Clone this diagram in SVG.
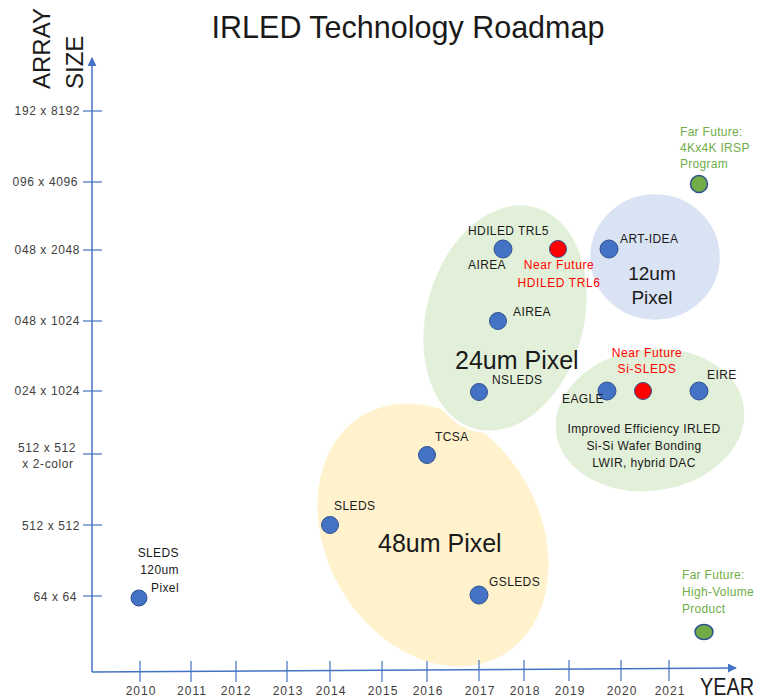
<svg xmlns="http://www.w3.org/2000/svg" width="762" height="699" viewBox="0 0 762 699">
<defs>
<style>
text{font-family:"Liberation Sans","Open Sans",Arial,sans-serif;}
.ax{stroke:#4472C4;stroke-width:1.5;fill:none;}
.tl{font-size:12px;fill:#404040;letter-spacing:0.6px;}
.yr{font-size:12px;fill:#404040;letter-spacing:1px;text-anchor:middle;}
.yl{font-size:12px;fill:#404040;text-anchor:end;letter-spacing:0.6px;}
.lb{font-size:12px;fill:#1a1a1a;letter-spacing:0.4px;}
.red{font-size:12px;fill:#FF0000;text-anchor:middle;letter-spacing:0.6px;}
.grn{font-size:12px;fill:#70AD47;letter-spacing:0.3px;}
.big{font-size:25px;fill:#1a1a1a;}
.pt{fill:#4472C4;stroke:#2F528F;stroke-width:1;}
.rp{fill:#FF0000;stroke:#2F528F;stroke-width:1;}
.gp{fill:#70AD47;stroke:#2F528F;stroke-width:1.5;}
.reg{stroke:#ffffff;stroke-width:2.5;}
</style>
<marker id="arr" viewBox="0 0 10 10" refX="9" refY="5" markerWidth="6" markerHeight="6" orient="auto-start-reverse" markerUnits="strokeWidth">
<path d="M0,0 L10,5 L0,10 z" fill="#4472C4"/>
</marker>
</defs>
<rect width="762" height="699" fill="#ffffff"/>

<text x="408" y="38" font-size="30.5" text-anchor="middle" fill="#1a1a1a">IRLED Technology Roadmap</text>
<text transform="translate(50,89) rotate(-90)" font-size="24" fill="#1a1a1a">ARRAY</text>
<text transform="translate(83,89) rotate(-90)" font-size="24" fill="#1a1a1a">SIZE</text>

<g id="regions">
<ellipse id="r48" class="reg" cx="433" cy="535" rx="140" ry="108" transform="rotate(60 433 535)" fill="#FFF2CC"/>
<ellipse id="r24" class="reg" cx="505" cy="318" rx="80" ry="116" transform="rotate(15 505 318)" fill="#E2F0D9"/>
<ellipse id="r12" class="reg" cx="655" cy="257" rx="66" ry="64" fill="#DAE3F3"/>
<ellipse id="rsi" class="reg" cx="650" cy="420" rx="96" ry="72" transform="rotate(-8 650 420)" fill="#E2F0D9"/>
</g>

<g id="axes">
<line class="ax" x1="92" y1="672" x2="92" y2="58" marker-end="url(#arr)"/>
<line class="ax" x1="92" y1="672" x2="736" y2="668" marker-end="url(#arr)"/>
<g stroke="#4472C4" stroke-width="1.2">
<line x1="83" y1="111" x2="102" y2="111"/>
<line x1="83" y1="182" x2="102" y2="182"/>
<line x1="83" y1="250" x2="102" y2="250"/>
<line x1="83" y1="321" x2="102" y2="321"/>
<line x1="83" y1="391" x2="102" y2="391"/>
<line x1="83" y1="454" x2="102" y2="454"/>
<line x1="83" y1="525" x2="102" y2="525"/>
<line x1="83" y1="596" x2="102" y2="596"/>
<line x1="140" y1="661" x2="140" y2="682"/>
<line x1="191" y1="661" x2="191" y2="682"/>
<line x1="236" y1="661" x2="236" y2="682"/>
<line x1="287" y1="661" x2="287" y2="682"/>
<line x1="330" y1="661" x2="330" y2="682"/>
<line x1="382" y1="661" x2="382" y2="682"/>
<line x1="427" y1="661" x2="427" y2="682"/>
<line x1="479" y1="660" x2="479" y2="681"/>
<line x1="524" y1="660" x2="524" y2="681"/>
<line x1="569" y1="660" x2="569" y2="681"/>
<line x1="621" y1="660" x2="621" y2="681"/>
<line x1="669" y1="660" x2="669" y2="681"/>
</g>
<text class="yl" x="80" y="115">192 x 8192</text>
<text class="yl" x="78" y="186">096 x 4096</text>
<text class="yl" x="80" y="254">048 x 2048</text>
<text class="yl" x="80" y="325">048 x 1024</text>
<text class="yl" x="80" y="395">024 x 1024</text>
<text class="tl" x="47" y="452" text-anchor="middle">512 x 512</text>
<text class="tl" x="48" y="468" text-anchor="middle">x 2-color</text>
<text class="yl" x="80" y="530">512 x 512</text>
<text class="yl" x="77" y="601">64 x 64</text>
<g>
<text class="yr" x="141" y="695">2010</text>
<text class="yr" x="192" y="695">2011</text>
<text class="yr" x="236" y="695">2012</text>
<text class="yr" x="288" y="695">2013</text>
<text class="yr" x="331" y="695">2014</text>
<text class="yr" x="383" y="695">2015</text>
<text class="yr" x="428" y="695">2016</text>
<text class="yr" x="480" y="695">2017</text>
<text class="yr" x="525" y="695">2018</text>
<text class="yr" x="570" y="695">2019</text>
<text class="yr" x="622" y="695">2020</text>
<text class="yr" x="670" y="695">2021</text>
</g>
<text x="700" y="695" font-size="23" fill="#1a1a1a" textLength="54" lengthAdjust="spacingAndGlyphs">YEAR</text>
</g>

<g id="region-labels">
<text class="big" x="378" y="552">48um Pixel</text>
<text class="big" x="455" y="369">24um Pixel</text>
<text x="652" y="280" font-size="19" fill="#1a1a1a" text-anchor="middle">12um</text>
<text x="652" y="304" font-size="19" fill="#1a1a1a" text-anchor="middle">Pixel</text>
<text class="lb" x="644" y="433" text-anchor="middle">Improved Efficiency IRLED</text>
<text class="lb" x="644" y="450" text-anchor="middle">Si-Si Wafer Bonding</text>
<text class="lb" x="644" y="467" text-anchor="middle">LWIR, hybrid DAC</text>
</g>

<g id="sleds2010">
<circle class="pt" cx="139" cy="598" r="8"/>
<text class="lb" x="179" y="557" text-anchor="end">SLEDS</text>
<text class="lb" x="179" y="574" text-anchor="end">120um</text>
<text class="lb" x="179" y="592" text-anchor="end">Pixel</text>
</g>
<g id="sleds2014">
<circle class="pt" cx="330" cy="525" r="8.5"/>
<text class="lb" x="334" y="510">SLEDS</text>
</g>
<g id="tcsa">
<circle class="pt" cx="427" cy="455" r="8.5"/>
<text class="lb" x="435" y="441">TCSA</text>
</g>
<g id="gsleds">
<circle class="pt" cx="479" cy="595" r="9"/>
<text class="lb" x="489" y="586">GSLEDS</text>
</g>
<g id="nsleds">
<circle class="pt" cx="479" cy="392" r="8.5"/>
<text class="lb" x="492" y="384">NSLEDS</text>
</g>
<g id="airea">
<circle class="pt" cx="498" cy="321" r="8.5"/>
<text class="lb" x="513" y="316">AIREA</text>
</g>
<g id="hdiled-trl5">
<circle class="pt" cx="503" cy="249" r="9"/>
<text class="lb" x="468" y="235">HDILED TRL5</text>
<text class="lb" x="468" y="269">AIREA</text>
</g>
<g id="hdiled-trl6">
<circle class="rp" cx="558" cy="249" r="8.5"/>
<text class="red" x="559" y="269">Near Future</text>
<text class="red" x="559" y="287">HDILED TRL6</text>
</g>
<g id="art-idea">
<circle class="pt" cx="609" cy="249" r="9"/>
<text class="lb" x="620" y="243">ART-IDEA</text>
</g>
<g id="eagle">
<circle class="pt" cx="607" cy="391" r="9"/>
<text class="lb" x="562" y="403">EAGLE</text>
</g>
<g id="si-sleds">
<circle class="rp" cx="643" cy="391" r="8.5"/>
<text class="red" x="647" y="357">Near Future</text>
<text class="red" x="647" y="373">Si-SLEDS</text>
</g>
<g id="eire">
<circle class="pt" cx="699" cy="391" r="9"/>
<text class="lb" x="707" y="379">EIRE</text>
</g>
<g id="irsp">
<circle class="gp" cx="699" cy="184" r="8.5"/>
<text class="grn" x="680" y="136">Far Future:</text>
<text class="grn" x="680" y="152">4Kx4K IRSP</text>
<text class="grn" x="680" y="168">Program</text>
</g>
<g id="high-volume">
<ellipse class="gp" cx="704" cy="632" rx="9" ry="7.5"/>
<text class="grn" x="682" y="579">Far Future:</text>
<text class="grn" x="682" y="596">High-Volume</text>
<text class="grn" x="682" y="613">Product</text>
</g>
</svg>
